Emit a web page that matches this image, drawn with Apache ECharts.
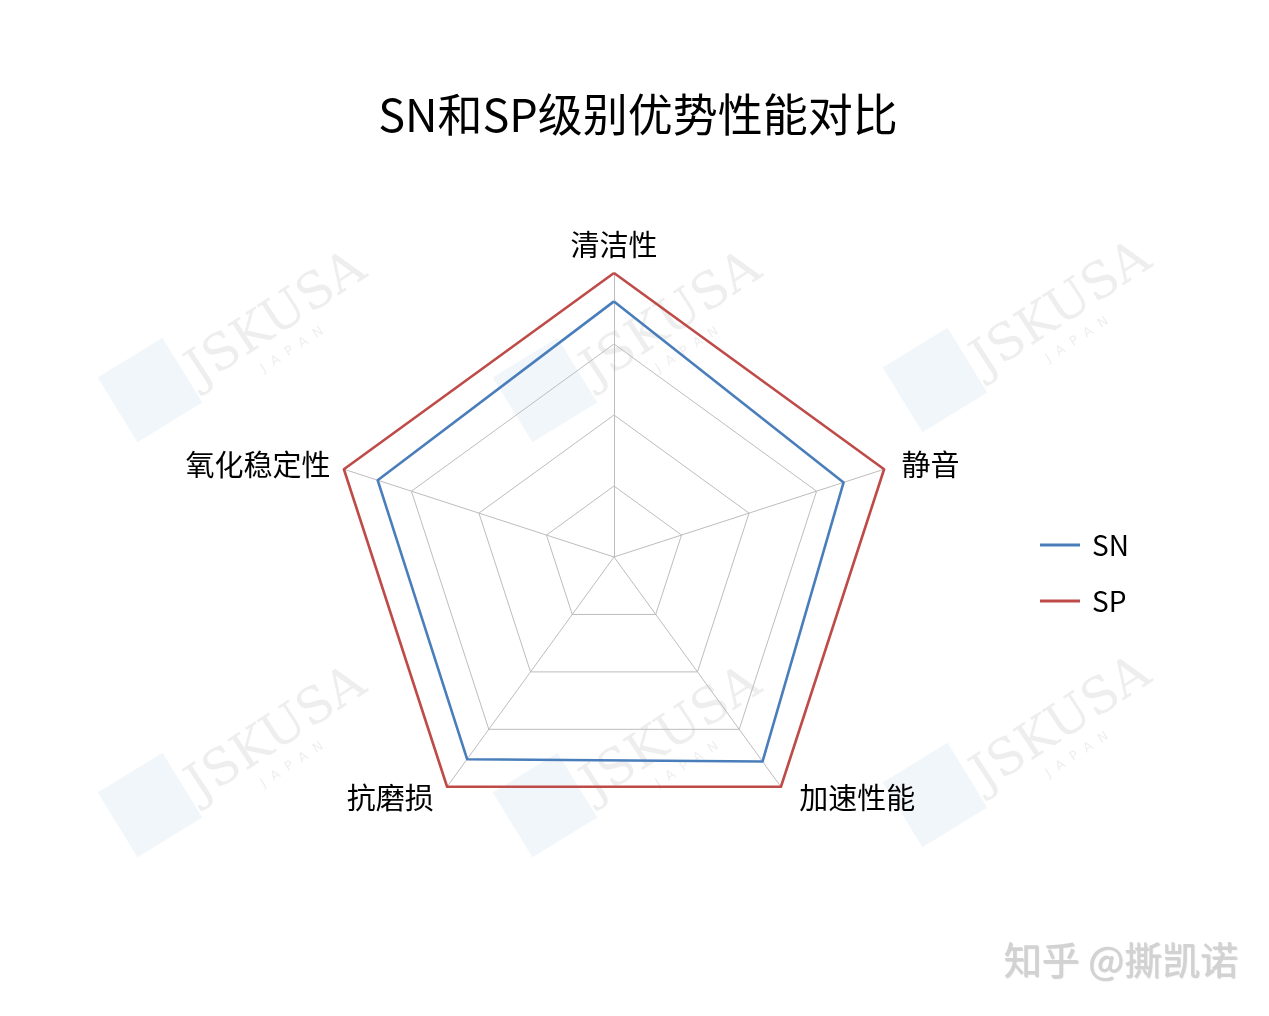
<!DOCTYPE html>
<html>
<head>
<meta charset="utf-8">
<script src="https://cdn.jsdelivr.net/npm/echarts@6/dist/echarts.min.js"></script>
<style>
html,body{margin:0;padding:0;background:#fff;}
#main{width:1269px;height:1016px;}
</style>
</head>
<body>
<div id="main"></div>
<script>
// Indicators listed counter-clockwise from the top (ECharts radar order)
var indicators = ['清洁性', '氧化稳定性', '抗磨损', '加速性能', '静音'];
var snValues = [90, 87.5, 88, 89, 85];
var spValues = [100, 100, 100, 100, 100];
var seriesNames = ['SN', 'SP'];
var maxValue = 100;

var FONT = '"Noto Sans CJK SC", "Noto Sans", sans-serif';

var chart = echarts.init(document.getElementById('main'), null, {renderer: 'canvas'});

// faint logo watermarks
var marks = [[245, 335], [640, 335], [1030, 325], [245, 750], [640, 750], [1030, 740]];
var graphics = [];
marks.forEach(function (p) {
  graphics.push({
    type: 'rect', x: p[0] - 95, y: p[1] + 55, rotation: 0.55,
    shape: {x: -38, y: -38, width: 76, height: 76},
    style: {fill: 'rgba(170,200,225,0.17)'}, z: -10
  });
  graphics.push({
    type: 'text', x: p[0] + 32, y: p[1] - 15, rotation: 0.58,
    style: {text: 'JSKUSA', fontFamily: '"DejaVu Serif", serif', fontSize: 50,
      fill: 'rgba(190,190,190,0.26)', align: 'center', verticalAlign: 'middle'}, z: -10
  });
  graphics.push({
    type: 'text', x: p[0] + 47, y: p[1] + 15, rotation: 0.58,
    style: {text: 'J  A  P  A  N', fontFamily: '"DejaVu Sans", sans-serif', fontSize: 13,
      fill: 'rgba(190,190,190,0.26)', align: 'center', verticalAlign: 'middle'}, z: -10
  });
});
graphics.push({
  type: 'text', right: 31, top: 941,
  style: {text: '知乎 @撕凯诺', fontFamily: FONT, fontSize: 38, fill: '#d2d2d2',
    textShadowColor: 'rgba(120,120,120,0.35)', textShadowOffsetX: 1, textShadowOffsetY: 1, textShadowBlur: 1},
  z: 10
});

var option = {
  backgroundColor: '#ffffff',
  animation: false,
  title: {
    text: 'SN和SP级别优势性能对比',
    left: 633, top: 87, textAlign: 'center',
    textStyle: {fontFamily: FONT, fontSize: 45, fontWeight: 'normal', color: '#000'}
  },
  legend: {
    orient: 'vertical',
    left: 1035, top: 526,
    itemWidth: 40, itemHeight: 3, itemGap: 28,
    icon: 'rect',
    data: seriesNames,
    textStyle: {fontFamily: FONT, fontSize: 28, color: '#000', padding: [0, 0, 0, 7]}
  },
  radar: {
    center: [614, 557],
    radius: 284,
    startAngle: 90,
    splitNumber: 4,
    shape: 'polygon',
    indicator: indicators.map(function (n) { return {name: n, max: maxValue, min: 0}; }),
    axisName: {
      color: '#000', fontFamily: FONT, fontSize: 29,
      formatter: function (name) {
        if (name === '加速性能') return '{r|' + name + '}';
        if (name === '静音') return '{s|' + name + '}';
        if (name === '抗磨损') return '{l|' + name + '}';
        return name;
      },
      rich: {
        r: {color: '#000', fontFamily: FONT, fontSize: 29, padding: [0, 0, 0, 10]},
        s: {color: '#000', fontFamily: FONT, fontSize: 29, padding: [0, 0, 0, 4]},
        l: {color: '#000', fontFamily: FONT, fontSize: 29, padding: [0, 5, 0, 0]}
      }
    },
    nameGap: 14,
    splitLine: {lineStyle: {color: '#bdbdbd', width: 1}},
    splitArea: {show: false},
    axisLine: {lineStyle: {color: '#bdbdbd', width: 1}}
  },
  graphic: graphics,
  series: [{
    type: 'radar',
    symbol: 'none',
    data: [
      {name: seriesNames[0], value: snValues,
        lineStyle: {color: '#4a7ebb', width: 2.6}, itemStyle: {color: '#4a7ebb'}},
      {name: seriesNames[1], value: spValues,
        lineStyle: {color: '#be4b48', width: 2.6}, itemStyle: {color: '#be4b48'}}
    ]
  }]
};
chart.setOption(option);
</script>
</body>
</html>
